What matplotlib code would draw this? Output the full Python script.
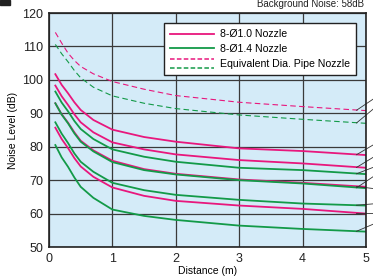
import matplotlib
matplotlib.use("Agg")
import matplotlib.pyplot as plt
from matplotlib.legend_handler import HandlerBase
from matplotlib.lines import Line2D
from matplotlib.patches import Rectangle

plt.rcParams["font.family"] = ["Liberation Sans Narrow", "Liberation Sans", "DejaVu Sans"]

# distance (m)
dist = [0.1, 0.2, 0.3, 0.4, 0.5, 0.7, 1, 1.5, 2, 3, 4, 5]

# noise level (dB) - 8-Ø1.0 nozzle (magenta)
mag1 = [101.7, 98.5, 96.0, 93.3, 91.0, 88.0, 85.1, 82.9, 81.5, 79.5, 78.7, 77.5]
mag2 = [98.3, 95.1, 92.5, 89.7, 87.3, 84.3, 81.3, 79.2, 77.7, 76.0, 75.0, 73.7]
mag3 = [93.0, 89.7, 87.2, 84.3, 81.8, 78.9, 75.8, 73.3, 71.9, 70.2, 69.2, 68.0]
mag4 = [85.7, 82.3, 79.6, 76.6, 74.1, 71.0, 67.8, 65.3, 63.8, 62.4, 61.4, 60.0]

# noise level (dB) - 8-Ø1.4 nozzle (green)
grn1 = [96.5, 93.2, 90.6, 87.7, 85.3, 82.3, 79.2, 77.0, 75.5, 73.7, 73.0, 71.8]
grn2 = [93.0, 89.6, 87.0, 84.0, 81.5, 78.6, 75.4, 73.0, 71.7, 70.0, 69.0, 67.6]
grn3 = [87.3, 83.9, 81.1, 78.0, 75.5, 72.5, 69.2, 67.0, 65.6, 64.1, 63.0, 62.4]
grn4 = [80.5, 76.8, 74.0, 70.8, 68.0, 64.7, 61.2, 59.3, 58.1, 56.4, 55.4, 54.6]

# equivalent dia. pipe nozzle (dashed)
pipe_mag = [114.2, 111.0, 108.0, 105.8, 104.0, 101.8, 99.5, 97.2, 95.3, 93.3, 92.0, 90.8]
pipe_grn = [110.6, 107.8, 105.4, 102.8, 100.6, 97.8, 95.2, 93.0, 91.4, 89.5, 88.2, 87.0]

# where the leader lines on the right end (dB)
leader_end = [94.2, 91.2, 80.5, 76.8, 73.8, 71.0, 67.5, 62.9, 60.1, 56.8]

MAG = "#e8177d"
GRN = "#139a48"

fig = plt.figure(figsize=(3.73, 2.78), dpi=100)
ax = fig.add_axes([49 / 373, 31 / 278, 317 / 373, 234 / 278])
ax.set_facecolor("#d4ebf8")

ax.plot(dist, pipe_mag, color=MAG, lw=0.8, ls=(0, (5, 3)))
ax.plot(dist, pipe_grn, color=GRN, lw=0.8, ls=(0, (5, 3)))
for ys in [mag1, mag2, mag3, mag4]:
    ax.plot(dist, ys, color=MAG, lw=1.3)
for ys in [grn1, grn2, grn3, grn4]:
    ax.plot(dist, ys, color=GRN, lw=1.3)

# leader lines from curve ends to the (cropped) labels
curve_ends = [pipe_mag, pipe_grn, mag1, mag2, grn1, grn2, mag3, grn3, mag4, grn4]
for ys, ye in zip(curve_ends, leader_end):
    ax.plot([4.85, 5.11], [ys[-1] + 0.1, ye], color="#333333", lw=0.6, clip_on=False)

ax.set_xlim(0, 5)
ax.set_ylim(50, 120)
ax.set_xticks([0, 1, 2, 3, 4, 5])
ax.set_yticks([50, 60, 70, 80, 90, 100, 110, 120])
ax.grid(True, color="#3a3a3a", lw=0.9)
ax.set_axisbelow(True)
ax.tick_params(length=0, labelsize=9, pad=4, colors="#222222")
for s in ax.spines.values():
    s.set_color("#222222")
    s.set_linewidth(1.2)

ax.set_xlabel("Distance (m)", fontsize=7.5, labelpad=1)
ax.set_ylabel("Noise Level (dB)", fontsize=7.5, labelpad=3)


class TwoDashHandler(HandlerBase):
    def create_artists(self, legend, orig, xd, yd, w, h, fs, trans):
        l1 = Line2D([xd, xd + w], [yd + h * 1.0, yd + h * 1.0], color=MAG, lw=1.1, ls=(0, (3, 1.5)), transform=trans)
        l2 = Line2D([xd, xd + w], [yd - h * 0.1, yd - h * 0.1], color=GRN, lw=1.1, ls=(0, (3, 1.5)), transform=trans)
        return [l1, l2]


h1 = Line2D([], [], color=MAG, lw=1.3)
h2 = Line2D([], [], color=GRN, lw=1.3)
h3 = Line2D([], [], color=MAG)
leg = ax.legend([h1, h2, h3], ["8-Ø1.0 Nozzle", "8-Ø1.4 Nozzle", "Equivalent Dia. Pipe Nozzle"],
                handler_map={h3: TwoDashHandler()}, loc="upper right",
                bbox_to_anchor=(0.985, 0.98), fontsize=7.6, frameon=True, fancybox=False,
                handlelength=4.2, handletextpad=0.5, labelspacing=0.45, borderpad=0.6)
leg.get_frame().set_edgecolor("#222222")
leg.get_frame().set_linewidth(1.0)
leg.get_frame().set_facecolor("white")
leg.get_frame().set_alpha(1)

fig.text(0.975, 1 - 7 / 278, "Background Noise: 58dB", ha="right", va="baseline", fontsize=7, color="#222222")
fig.patches.append(Rectangle((0, 1 - 5 / 278), 10 / 373, 5 / 278, transform=fig.transFigure, color="#222222"))

fig.savefig("out.png", dpi=100)
